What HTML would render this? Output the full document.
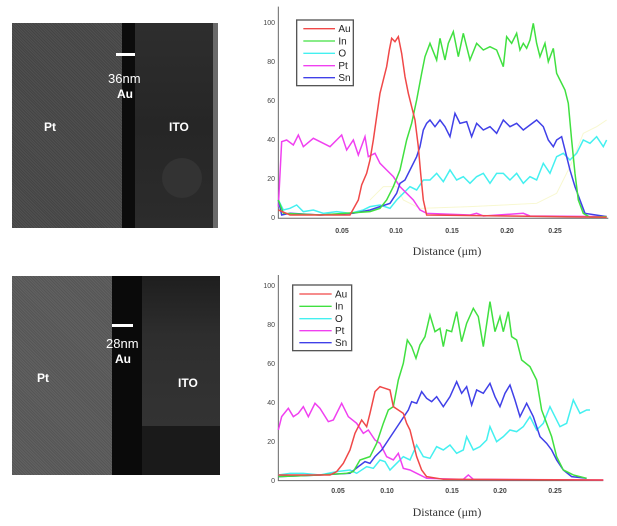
<!DOCTYPE html>
<html><head><meta charset="utf-8"><style>
body{margin:0;width:617px;height:526px;background:#fff;position:relative;overflow:hidden;font-family:"Liberation Sans",sans-serif}
.img{position:absolute;overflow:hidden}
.t{position:absolute;color:#fff;font-size:12px;white-space:nowrap}
.b{font-weight:bold}
svg{position:absolute;left:0;top:0}
</style></head><body>
<div class="img" style="left:12px;top:23px;width:206px;height:205px;background:#484848">
 <div style="position:absolute;left:0;top:0;width:112px;height:205px;background:repeating-linear-gradient(45deg,#505050 0 1px,#444 1px 2px)"></div>
 <div style="position:absolute;left:110px;top:0;width:13px;height:205px;background:#0c0c0c"></div>
 <div style="position:absolute;left:123px;top:0;width:83px;height:205px;background:linear-gradient(180deg,#2e2e2e,#262626 50%,#2c2c2c)"></div>
 <div style="position:absolute;left:201px;top:0;width:5px;height:205px;background:#6a6a6a"></div>
 <div style="position:absolute;left:150px;top:135px;width:40px;height:40px;border-radius:50%;background:#333"></div>
</div>
<div style="position:absolute;left:116px;top:53px;width:19px;height:3px;background:#fff"></div>
<div class="t" style="left:108px;top:71px;font-size:13px">36nm</div>
<div class="t b" style="left:117px;top:87px">Au</div>
<div class="t b" style="left:44px;top:120px">Pt</div>
<div class="t b" style="left:169px;top:120px">ITO</div>

<div class="img" style="left:12px;top:276px;width:208px;height:199px;background:#5a5a5a">
 <div style="position:absolute;left:0;top:0;width:102px;height:199px;background:repeating-linear-gradient(45deg,#616161 0 1px,#555 1px 2px)"></div>
 <div style="position:absolute;left:100px;top:0;width:30px;height:199px;background:#0a0a0a"></div>
 <div style="position:absolute;left:130px;top:0;width:78px;height:150px;background:linear-gradient(180deg,#1e1e1e,#2e2e2e 40%,#333)"></div>
 <div style="position:absolute;left:130px;top:150px;width:78px;height:49px;background:#1a1a1a"></div>
</div>
<div style="position:absolute;left:112px;top:324px;width:21px;height:3px;background:#fff"></div>
<div class="t" style="left:106px;top:336px;font-size:13px">28nm</div>
<div class="t b" style="left:115px;top:352px">Au</div>
<div class="t b" style="left:37px;top:371px">Pt</div>
<div class="t b" style="left:178px;top:376px">ITO</div>

<svg width="617" height="526" viewBox="0 0 617 526" font-family="Liberation Sans, sans-serif">
<g font-size="7" fill="#444" text-anchor="end">
 <text x="275" y="25">100</text><text x="275" y="64">80</text><text x="275" y="103">60</text><text x="275" y="142">40</text><text x="275" y="181">20</text><text x="275" y="220">0</text>
 <text x="275" y="288">100</text><text x="275" y="327">80</text><text x="275" y="366">60</text><text x="275" y="405">40</text><text x="275" y="444">20</text><text x="275" y="483">0</text>
</g>
<g font-size="7" fill="#444" text-anchor="middle" font-weight="bold">
 <text x="342" y="233">0.05</text><text x="396" y="233">0.10</text><text x="452" y="233">0.15</text><text x="507" y="233">0.20</text><text x="555" y="233">0.25</text>
 <text x="338" y="493">0.05</text><text x="387" y="493">0.10</text><text x="452" y="493">0.15</text><text x="500" y="493">0.20</text><text x="555" y="493">0.25</text>
</g>
<g font-family="Liberation Serif, serif" font-size="12" fill="#333" text-anchor="middle">
 <text x="447" y="255">Distance (μm)</text><text x="447" y="516">Distance (μm)</text>
</g>
<g transform="translate(270,0) scale(0.3333)" fill="none" stroke-width="4.5">
 <path d="M25,20V655H1015" stroke="#666" stroke-width="3"/>
 <path d="M300,600 340,560 380,560 400,600 450,625 600,620 800,610 860,580 900,500 940,400 980,380 1010,360" stroke="#f8f8d0" stroke-width="3"/>
 <path d="M25,600 40,630 60,625 80,615 100,635 130,630 160,640 200,635 240,640 280,630 300,620 330,615 360,625 380,600 400,580 420,560 440,570 460,540 480,540 500,520 520,545 540,510 560,540 580,530 600,550 620,530 640,520 660,550 680,520 700,520 720,540 740,520 760,550 780,530 800,540 820,490 840,520 860,470 880,460 900,480 920,460 940,420 960,430 980,410 1000,440 1010,420" stroke="#44f0f0"/>
 <path d="M25,620 35,425 50,420 70,435 85,405 100,440 130,415 160,430 180,440 200,420 215,405 230,450 250,420 265,465 285,410 295,470 315,460 330,490 350,510 370,530 390,560 410,580 430,600 450,630 470,640 600,645 620,640 640,648 760,640 780,648 1010,650" stroke="#f040f0"/>
 <path d="M25,600 35,645 60,640 150,645 250,640 300,630 330,620 360,610 380,580 390,550 405,540 420,510 440,470 450,440 460,390 470,370 480,360 495,380 510,360 525,380 540,410 555,340 570,370 590,365 605,410 620,370 640,390 660,380 680,400 700,360 720,380 740,370 760,390 780,375 800,360 820,380 835,420 850,440 860,420 875,410 885,450 900,510 915,560 930,600 945,640 1010,650" stroke="#4040e8"/>
 <path d="M25,600 40,640 150,645 300,635 330,625 350,600 370,560 390,510 410,420 425,370 440,300 455,220 465,170 480,130 500,180 510,115 525,180 535,130 550,95 565,170 580,100 600,180 620,130 640,150 660,140 680,150 700,200 710,110 725,130 740,100 750,150 760,130 770,145 780,120 790,70 800,130 810,170 825,130 835,185 850,145 860,220 870,240 885,270 895,310 905,420 915,520 925,600 940,640 960,652 1010,650" stroke="#40e040"/>
 <path d="M25,630 60,645 240,645 265,600 275,555 290,520 300,480 310,420 320,350 330,280 340,240 350,200 358,150 365,115 375,125 385,110 395,160 405,230 415,280 425,320 435,360 445,440 452,520 460,600 470,645 1010,652" stroke="#f04848"/>
 <rect x="80" y="60" width="170" height="197" fill="#fff" stroke="#555" stroke-width="4"/>
 <g stroke-width="4"><path d="M100,86H195" stroke="#f04848"/><path d="M100,123H195" stroke="#40e040"/><path d="M100,160H195" stroke="#44f0f0"/><path d="M100,197H195" stroke="#f040f0"/><path d="M100,233H195" stroke="#4040e8"/></g>
 <g font-size="30" fill="#222" stroke="none"><text x="205" y="96">Au</text><text x="205" y="133">In</text><text x="205" y="170">O</text><text x="205" y="207">Pt</text><text x="205" y="243">Sn</text></g>
</g>
<g transform="translate(270,270) scale(0.3333)" fill="none" stroke-width="4.5">
 <path d="M25,15V632H1000" stroke="#666" stroke-width="3"/>
 <path d="M25,615 60,610 100,610 150,615 200,605 240,600 260,610 290,590 310,595 330,570 345,575 360,600 380,580 400,560 420,570 440,525 460,560 480,565 500,530 520,540 540,525 560,550 580,540 590,500 610,540 630,530 650,510 660,470 680,515 700,500 720,480 740,485 760,470 780,440 800,480 820,460 840,410 855,440 870,470 890,460 910,390 930,430 950,420 960,420" stroke="#44f0f0"/>
 <path d="M25,480 35,440 55,415 70,440 85,430 100,410 115,440 135,400 150,415 175,455 190,450 215,400 235,440 260,460 280,490 295,480 315,510 330,520 350,560 370,570 385,550 400,595 420,600 440,610 470,625 580,628 595,615 610,628 1000,630" stroke="#f040f0"/>
 <path d="M25,620 150,615 240,610 265,590 285,575 300,580 315,560 335,540 355,510 375,480 395,450 415,420 425,395 440,400 455,365 470,385 485,395 500,380 520,410 540,380 560,335 575,370 590,350 605,405 620,360 640,370 660,340 675,380 690,410 705,370 720,345 735,390 750,440 770,400 790,440 810,500 830,520 845,540 860,570 880,600 905,620 950,625" stroke="#4040e8"/>
 <path d="M25,620 150,615 230,610 250,605 270,570 300,560 320,520 340,460 355,420 370,410 385,330 400,280 412,210 425,230 438,265 450,225 465,200 480,135 495,185 510,175 520,230 530,180 545,185 560,125 575,215 590,160 610,115 625,140 640,230 660,95 675,185 690,140 700,185 715,125 725,200 740,210 755,270 780,290 800,330 815,420 830,460 845,500 860,560 880,600 910,615 950,625" stroke="#40e040"/>
 <path d="M25,615 180,615 200,605 220,580 240,540 255,490 275,450 290,470 300,430 315,365 330,350 345,355 360,360 370,410 385,420 400,430 410,460 420,480 430,520 440,560 455,600 470,620 520,628 1000,630" stroke="#f04848"/>
 <rect x="68" y="45" width="177" height="197" fill="#fff" stroke="#555" stroke-width="4"/>
 <g stroke-width="4"><path d="M88,72H185" stroke="#f04848"/><path d="M88,109H185" stroke="#40e040"/><path d="M88,146H185" stroke="#44f0f0"/><path d="M88,182H185" stroke="#f040f0"/><path d="M88,218H185" stroke="#4040e8"/></g>
 <g font-size="30" fill="#222" stroke="none"><text x="195" y="82">Au</text><text x="195" y="119">In</text><text x="195" y="156">O</text><text x="195" y="192">Pt</text><text x="195" y="228">Sn</text></g>
</g>
</svg>
</body></html>
